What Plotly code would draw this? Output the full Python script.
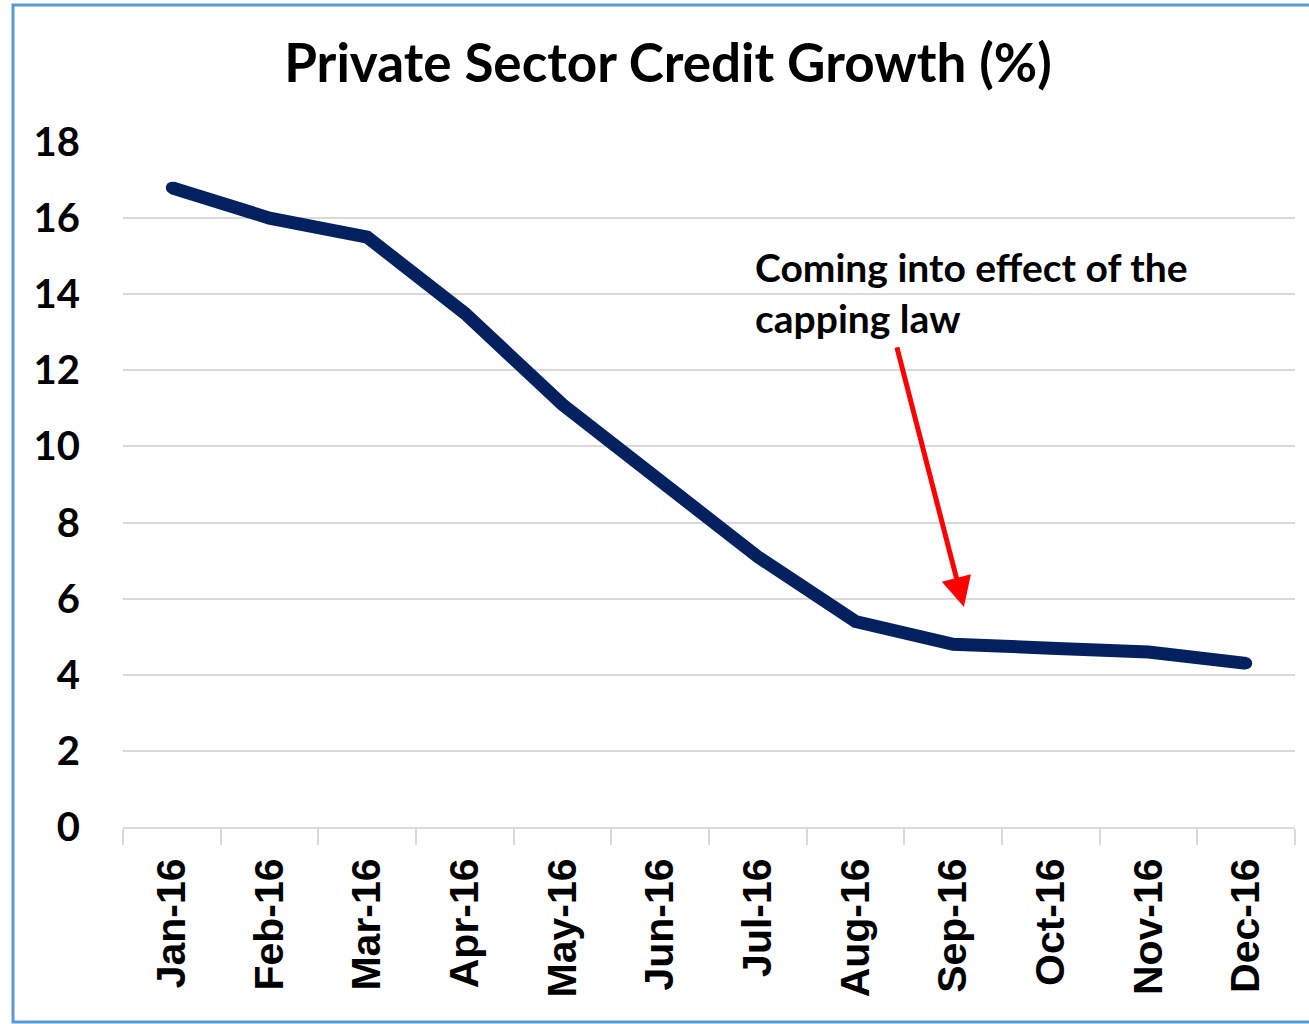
import plotly.graph_objects as go

months = ["Jan-16", "Feb-16", "Mar-16", "Apr-16", "May-16", "Jun-16",
          "Jul-16", "Aug-16", "Sep-16", "Oct-16", "Nov-16", "Dec-16"]
growth = [16.8, 16.0, 15.5, 13.5, 11.1, 9.1, 7.1, 5.4, 4.8, 4.7, 4.6, 4.3]
y_ticks = [0, 2, 4, 6, 8, 10, 12, 14, 16, 18]

title_text = "Private Sector Credit Growth (%)"
note_text = "Coming into effect of the<br>capping law"

fig = go.Figure()
fig.add_trace(go.Scatter(
    x=list(range(len(months))), y=growth, mode="lines+markers",
    line=dict(color="#03215F", width=13), marker=dict(color="#03215F", size=12),
    hoverinfo="skip", showlegend=False))

L, R, T, B = 123, 14, 142, 197
W, H = 1309, 1024
pw, ph = W - L - R, H - T - B

def px_x(p):
    return (p - L) / pw

def px_y(p):
    return (H - B - p) / ph

boundaries = [i - 0.5 for i in range(len(months) + 1)]

fig.update_layout(
    width=W, height=H,
    margin=dict(l=L, r=R, t=T, b=B),
    paper_bgcolor="white", plot_bgcolor="white",
    title=dict(text=title_text, x=668 / W, xanchor="center", y=1 - 63 / H, yanchor="middle",
               font=dict(family="Lato", size=53, color="black", weight="bold")),
    xaxis=dict(range=[-0.5, len(months) - 0.5], tickmode="array",
               tickvals=list(range(len(months))), ticktext=months,
               tickangle=-90, showgrid=False, zeroline=False,
               showline=True, linecolor="#D9D9D9", linewidth=2,
               ticks="", ticklabelstandoff=13,
               minor=dict(tickmode="array", tickvals=boundaries, ticks="outside",
                          ticklen=16, tickwidth=2, tickcolor="#D9D9D9", showgrid=False),
               tickfont=dict(family="Liberation Sans", size=41, color="black", weight="bold")),
    yaxis=dict(range=[0, 18], tickvals=y_ticks, showgrid=True, gridcolor="#D9D9D9", gridwidth=2,
               zeroline=False, showline=False, ticks="", ticklabelstandoff=42,
               tickfont=dict(family="Lato", size=40, color="black", weight="bold")),
    shapes=[dict(type="rect", xref="paper", yref="paper",
                 x0=px_x(13), x1=px_x(W + 10), y0=px_y(1022), y1=px_y(5),
                 line=dict(color="#5B9BD5", width=3), layer="below")],
)

fig.add_annotation(x=8.11, y=5.78, ax=7.42, ay=12.64, xref="x", yref="y", axref="x", ayref="y",
                   text="", showarrow=True, arrowhead=2, arrowsize=1.2, arrowwidth=5,
                   arrowcolor="#FF0000")
fig.add_annotation(x=px_x(753), y=px_y(292), xref="paper", yref="paper", text=note_text,
                   showarrow=False, xanchor="left", yanchor="middle", align="left",
                   font=dict(family="Lato", size=39, color="black", weight="bold"))

fig.write_html("out.html")
